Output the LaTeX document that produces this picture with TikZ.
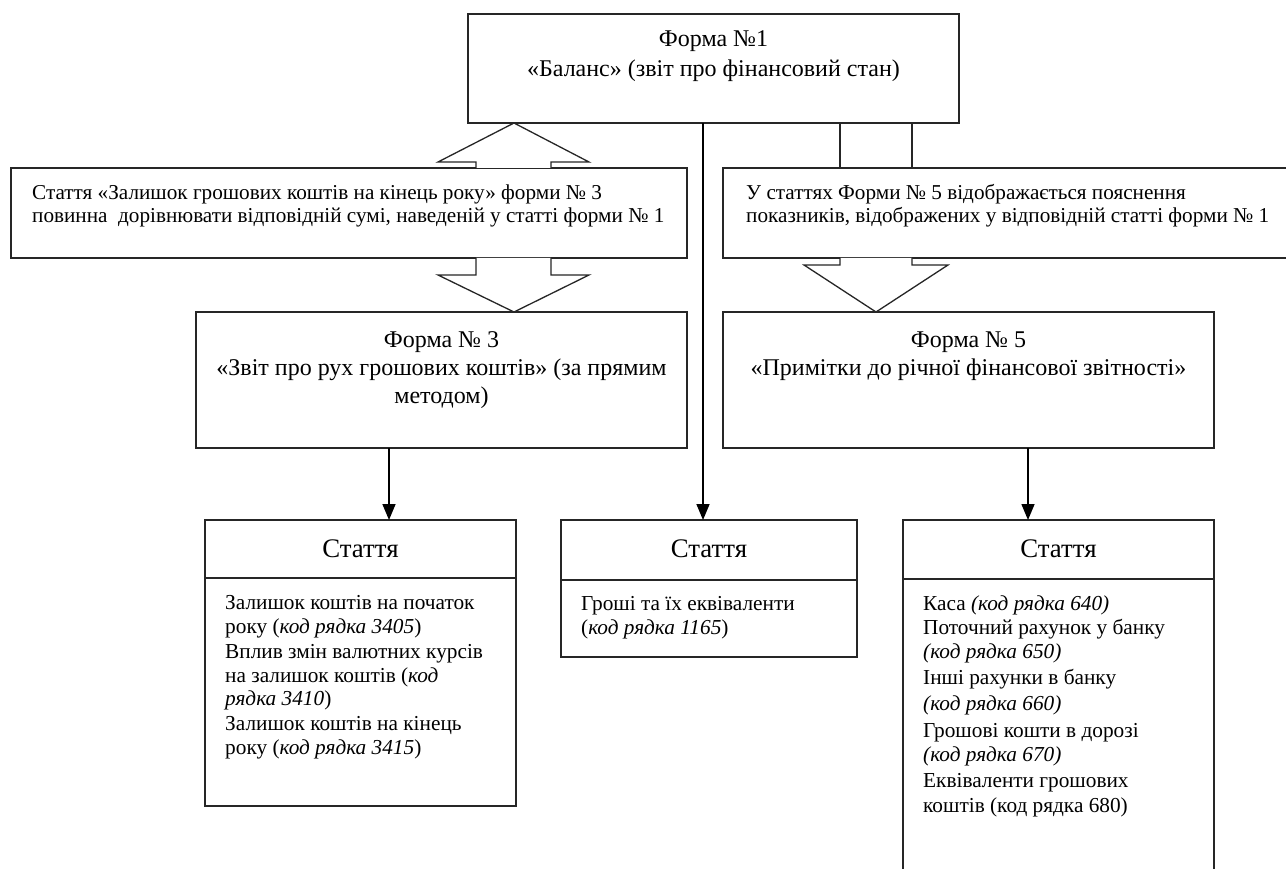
\documentclass[tikz,border=0pt]{standalone}
\usepackage{fontspec}
\setmainfont{Liberation Serif}
\usetikzlibrary{arrows.meta}
\begin{document}
\begin{tikzpicture}[x=1pt,y=-1pt,
  box/.style={draw=black!85, line width=1.4pt, rectangle, inner sep=0pt, outer sep=0pt, anchor=north west},
  hollow/.style={draw=black!85, line width=1.3pt, fill=white, line join=miter},
  link/.style={draw=black!85, line width=1.3pt},
  arr/.style={draw=black, line width=1.6pt, -{Triangle[length=16pt,width=13pt]}},
  big/.style={font=\fontsize{24}{28}\selectfont, inner sep=0pt, anchor=base},
  mid/.style={font=\fontsize{21.2}{24}\selectfont, inner sep=0pt, anchor=base west},
  head/.style={font=\fontsize{26.8}{28}\selectfont, inner sep=0pt, anchor=base},
  body/.style={font=\fontsize{21.3}{24}\selectfont, inner sep=0pt, anchor=base west}]
\useasboundingbox (0,0) rectangle (1286,869);
\clip (0,0) rectangle (1286,869);
% boxes
\node[box, minimum width=491pt, minimum height=109pt] (f1) at (468,14) {};
\node[box, minimum width=676pt, minimum height=90pt] (tl) at (11,168) {};
\node[box, minimum width=620pt, minimum height=90pt] (tr) at (723,168) {};
\node[box, minimum width=491pt, minimum height=136pt] (f3) at (196,312) {};
\node[box, minimum width=491pt, minimum height=136pt] (f5) at (723,312) {};
\node[box, minimum width=311pt, minimum height=286pt] (s1) at (205,520) {};
\node[box, minimum width=296pt, minimum height=137pt] (s2) at (561,520) {};
\node[box, minimum width=311pt, minimum height=400pt] (s3) at (903,520) {};
% dividers
\draw[link] (s1.west |- 0,578) -- (s1.east |- 0,578);
\draw[link] (s2.west |- 0,580) -- (s2.east |- 0,580);
\draw[link] (s3.west |- 0,579) -- (s3.east |- 0,579);
% hollow arrows
\draw[hollow] (476,0 |- tl.north) -- (476,162) -- (438,162) -- (514,0 |- f1.south) -- (589,162) -- (551,162) -- (551,0 |- tl.north);
\draw[hollow] (476,0 |- tl.south) -- (476,275) -- (438,275) -- (514,0 |- f3.north) -- (589,275) -- (551,275) -- (551,0 |- tl.south);
\draw[link] (840,0 |- f1.south) -- (840,0 |- tr.north);
\draw[link] (912,0 |- f1.south) -- (912,0 |- tr.north);
\draw[hollow] (840,0 |- tr.south) -- (840,265) -- (804,265) -- (876,0 |- f5.north) -- (948,265) -- (912,265) -- (912,0 |- tr.south);
% arrows
\draw[arr] (703,0 |- f1.south) -- (703,0 |- s2.north);
\draw[arr] (389,0 |- f3.south) -- (389,0 |- s1.north);
\draw[arr] (1028,0 |- f5.south) -- (1028,0 |- s3.north);
% texts
\node[big] (f1a) at (713.5,47) {Форма №1};
\node[big] (f1b) at (713.5,77) {«Баланс» (звіт про фінансовий стан)};
\node[mid] (tla) at (32,200) {Стаття «Залишок грошових коштів на кінець року» форми № 3};
\node[mid] (tlb) at (32,223) {повинна~ дорівнювати відповідній сумі, наведеній у статті форми № 1};
\node[mid] (tra) at (746,200) {У статтях Форми № 5 відображається пояснення};
\node[mid] (trb) at (746,223) {показників, відображених у відповідній статті форми № 1};
\node[big] (f3a) at (441.5,347) {Форма № 3};
\node[big] (f3b) at (441.5,375) {«Звіт про рух грошових коштів» (за прямим};
\node[big] (f3c) at (441.5,403) {методом)};
\node[big] (f5a) at (968.5,347) {Форма № 5};
\node[big] (f5b) at (968.5,375) {«Примітки до річної фінансової звітності»};
\node[head] (s1h) at (360.5,557) {Стаття};
\node[head] (s2h) at (709,557) {Стаття};
\node[head] (s3h) at (1058.5,557) {Стаття};
% left body
\node[body] (l1) at (225,609) {Залишок коштів на початок};
\node[body] (l2) at (225,633) {року (\textit{код рядка 3405})};
\node[body] (l3) at (225,658) {Вплив змін валютних курсів};
\node[body] (l4) at (225,682) {на залишок коштів (\textit{код}};
\node[body] (l5) at (225,705) {\textit{рядка 3410})};
\node[body] (l6) at (225,730) {Залишок коштів на кінець};
\node[body] (l7) at (225,754) {року (\textit{код рядка 3415})};
% middle body
\node[body] (m1) at (581,610) {Гроші та їх еквіваленти};
\node[body] (m2) at (581,634) {(\textit{код рядка 1165})};
% right body
\node[body] (r1) at (923,610) {Каса \textit{(код рядка 640)}};
\node[body] (r2) at (923,634) {Поточний рахунок у банку};
\node[body] (r3) at (923,658) {\textit{(код рядка 650)}};
\node[body] (r4) at (923,684) {Інші рахунки в банку};
\node[body] (r5) at (923,710) {\textit{(код рядка 660)}};
\node[body] (r6) at (923,737) {Грошові кошти в дорозі};
\node[body] (r7) at (923,761) {\textit{(код рядка 670)}};
\node[body] (r8) at (923,787) {Еквіваленти грошових};
\node[body] (r9) at (923,812) {коштів (код рядка 680)};
\end{tikzpicture}
\end{document}
